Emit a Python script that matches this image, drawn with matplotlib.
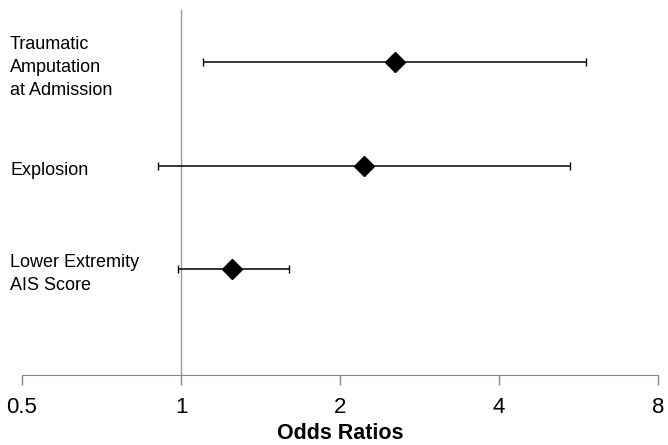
import numpy as np
import matplotlib
matplotlib.use("Agg")
import matplotlib.pyplot as plt
import matplotlib.transforms as mtransforms

plt.rcParams['font.family'] = ['Liberation Sans', 'DejaVu Sans']

# data
labels = ['Traumatic\nAmputation\nat Admission', 'Explosion', 'Lower Extremity\nAIS Score']
odds = [2.54, 2.22, 1.25]
ci_low = [1.10, 0.905, 0.985]
ci_high = [5.84, 5.45, 1.60]
ticks = [0.5, 1, 2, 4, 8]
tick_labels = ['0.5', '1', '2', '4', '8']

fig = plt.figure(figsize=(6.68, 4.45), dpi=100)
ax = fig.add_axes([0.033, 0.157, 0.952, 0.821])

ypos = np.arange(len(labels), 0, -1)
odds = np.array(odds)
err = np.vstack([odds - np.array(ci_low), np.array(ci_high) - odds])

ax.axvline(1, color='#999999', lw=1.0, zorder=1)
ax.errorbar(odds, ypos, xerr=err, fmt='none', ecolor='black', elinewidth=1.1,
            capsize=3, capthick=1.0, zorder=2)
ax.plot(odds, ypos, 'D', color='black', markersize=10.5, zorder=3)

ax.set_xscale('log', base=2)
ax.set_xlim(0.5, 8)
ax.set_ylim(-0.03, 3.51)
ax.set_xticks(ticks)
ax.set_xticklabels(tick_labels, fontsize=16)
ax.minorticks_off()
ax.set_yticks([])
for s in ['top', 'right', 'left']:
    ax.spines[s].set_visible(False)
ax.spines['bottom'].set_color('#888888')
ax.tick_params(axis='x', colors='#888888', length=7, width=1, pad=9, labelcolor='black')

# axis title placed by its baseline so it sits at the bottom edge
ax_mid = (ax.get_position().x0 + ax.get_position().x1) / 2
fig.text(ax_mid, 6 / 445, 'Odds Ratios', fontsize=15.5, fontweight='bold',
         ha='center', va='baseline')

trans = mtransforms.blended_transform_factory(fig.transFigure, ax.transData)
offset = mtransforms.ScaledTranslation(0, -5 / 100, fig.dpi_scale_trans)
for lab, y in zip(labels, ypos):
    ax.text(10 / 668, y, lab, transform=trans + offset, fontsize=13,
            ha='left', va='center', linespacing=1.43)

fig.savefig('out.png', dpi=100)
